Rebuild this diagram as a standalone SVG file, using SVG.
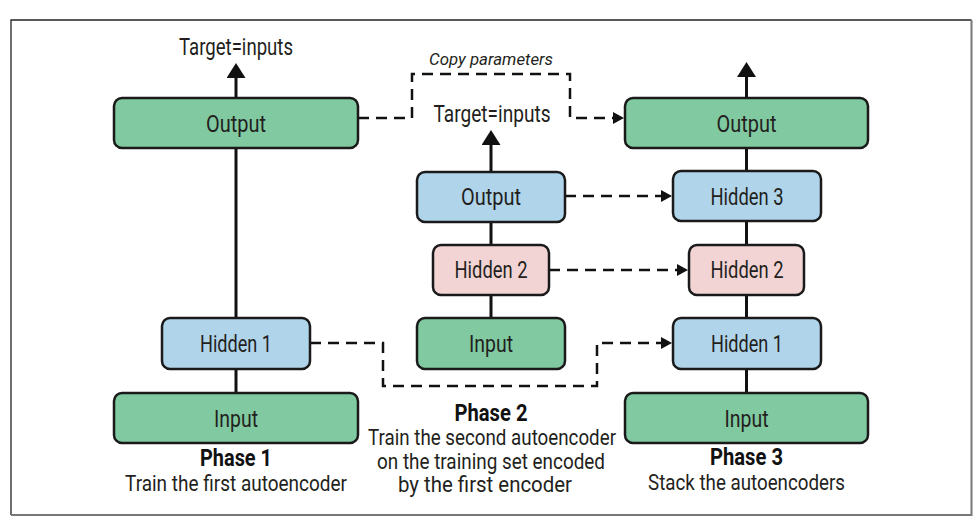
<svg xmlns="http://www.w3.org/2000/svg" width="980" height="519" viewBox="0 0 980 519">
  <defs>
    <marker id="solidHead" markerUnits="userSpaceOnUse" markerWidth="20" markerHeight="20" refX="3" refY="9.5" orient="auto">
      <path d="M0,0 L15,9.5 L0,19 z" fill="#111"/>
    </marker>
    <marker id="dashHead" markerUnits="userSpaceOnUse" markerWidth="14" markerHeight="14" refX="2" refY="6" orient="auto">
      <path d="M0,0 L11,6 L0,12 z" fill="#111"/>
    </marker>
  </defs>
  <style>
    .box { stroke: #1a1a1a; stroke-width: 2.5; }
    .green { fill: #80c9a1; }
    .blue { fill: #b0d4ea; }
    .pink { fill: #f2d4d4; }
    .lbl { font-family: Roboto, "Liberation Sans", sans-serif; font-size: 23.5px; fill: #231f20; text-anchor: middle; }
    .title { font-family: Roboto, "Liberation Sans", sans-serif; font-size: 23.5px; font-weight: bold; fill: #111; text-anchor: middle; }
    .sub { font-family: Roboto, "Liberation Sans", sans-serif; font-size: 22px; fill: #231f20; text-anchor: middle; }
    .ital { font-family: Roboto, "Liberation Sans", sans-serif; font-size: 17px; font-style: italic; fill: #231f20; text-anchor: middle; }
    .solid { stroke: #111; stroke-width: 3; fill: none; }
    .dash { stroke: #111; stroke-width: 2.5; fill: none; stroke-dasharray: 11 7; }
  </style>

  <!-- frame -->
  <g id="frame">
    <path d="M11,515 V20 H971.5" fill="none" stroke="#222" stroke-width="1.3"/>
    <path d="M971.5,20 V515 H11" fill="none" stroke="#777" stroke-width="2"/>
  </g>

  <!-- connectors -->
  <g id="connectors">
    <path class="solid" d="M236,393 V369"/>
    <path class="solid" d="M236,318 V148"/>
    <path class="solid" d="M236,98 V75" marker-end="url(#solidHead)"/>

    <path class="solid" d="M491,318 V295"/>
    <path class="solid" d="M491,245 V222"/>
    <path class="solid" d="M491,172 V142" marker-end="url(#solidHead)"/>

    <path class="solid" d="M746.5,393 V369"/>
    <path class="solid" d="M746.5,318 V295"/>
    <path class="solid" d="M746.5,245 V221"/>
    <path class="solid" d="M746.5,171 V148"/>
    <path class="solid" d="M746.5,98 V74" marker-end="url(#solidHead)"/>

    <path class="dash" d="M358,118 H412 V74 H570 V118 H615" marker-end="url(#dashHead)"/>
    <path class="dash" d="M565,196 H663" marker-end="url(#dashHead)"/>
    <path class="dash" d="M549,270 H679" marker-end="url(#dashHead)"/>
    <path class="dash" d="M310,343 H383 V386 H597 V343 H663" marker-end="url(#dashHead)"/>
  </g>

  <!-- connector labels -->
  <g id="labels">
    <text class="lbl" x="236" y="55" textLength="114" lengthAdjust="spacingAndGlyphs">Target=inputs</text>
    <text class="lbl" x="492" y="122" textLength="117" lengthAdjust="spacingAndGlyphs">Target=inputs</text>
    <text class="ital" x="491" y="65" textLength="124" lengthAdjust="spacingAndGlyphs">Copy parameters</text>
  </g>

  <!-- Phase 1 -->
  <g id="p1-output">
    <rect class="box green" x="114" y="98" width="244" height="50" rx="8"/>
    <text class="lbl" x="236" y="131.5" textLength="60" lengthAdjust="spacingAndGlyphs">Output</text>
  </g>
  <g id="p1-hidden1">
    <rect class="box blue" x="162" y="318" width="148" height="51" rx="8"/>
    <text class="lbl" x="236" y="351.5" textLength="72" lengthAdjust="spacingAndGlyphs">Hidden 1</text>
  </g>
  <g id="p1-input">
    <rect class="box green" x="114" y="393" width="244" height="50" rx="8"/>
    <text class="lbl" x="236" y="426.5" textLength="44" lengthAdjust="spacingAndGlyphs">Input</text>
  </g>
  <g id="p1-caption">
    <text class="title" x="236" y="466" textLength="72" lengthAdjust="spacingAndGlyphs">Phase 1</text>
    <text class="sub" x="236" y="491" textLength="222" lengthAdjust="spacingAndGlyphs">Train the first autoencoder</text>
  </g>

  <!-- Phase 2 -->
  <g id="p2-output">
    <rect class="box blue" x="417" y="172" width="148" height="50" rx="8"/>
    <text class="lbl" x="491" y="205" textLength="60" lengthAdjust="spacingAndGlyphs">Output</text>
  </g>
  <g id="p2-hidden2">
    <rect class="box pink" x="433" y="245" width="116" height="50" rx="8"/>
    <text class="lbl" x="491" y="278" textLength="73" lengthAdjust="spacingAndGlyphs">Hidden 2</text>
  </g>
  <g id="p2-input">
    <rect class="box green" x="417" y="318" width="148" height="51" rx="8"/>
    <text class="lbl" x="491" y="351.5" textLength="44" lengthAdjust="spacingAndGlyphs">Input</text>
  </g>
  <g id="p2-caption">
    <text class="title" x="491" y="421" textLength="73" lengthAdjust="spacingAndGlyphs">Phase 2</text>
    <text class="sub" x="492" y="445" textLength="248" lengthAdjust="spacingAndGlyphs">Train the second autoencoder</text>
    <text class="sub" x="491" y="468.5" textLength="228" lengthAdjust="spacingAndGlyphs">on the training set encoded</text>
    <text class="sub" x="485" y="492" textLength="174" lengthAdjust="spacingAndGlyphs">by the first encoder</text>
  </g>

  <!-- Phase 3 -->
  <g id="p3-output">
    <rect class="box green" x="625" y="98" width="243" height="50" rx="8"/>
    <text class="lbl" x="746.5" y="131.5" textLength="60" lengthAdjust="spacingAndGlyphs">Output</text>
  </g>
  <g id="p3-hidden3">
    <rect class="box blue" x="673" y="171" width="148" height="50" rx="8"/>
    <text class="lbl" x="747" y="204.5" textLength="73" lengthAdjust="spacingAndGlyphs">Hidden 3</text>
  </g>
  <g id="p3-hidden2">
    <rect class="box pink" x="689" y="245" width="115" height="50" rx="8"/>
    <text class="lbl" x="747" y="278" textLength="73" lengthAdjust="spacingAndGlyphs">Hidden 2</text>
  </g>
  <g id="p3-hidden1">
    <rect class="box blue" x="673" y="318" width="148" height="51" rx="8"/>
    <text class="lbl" x="747" y="351.5" textLength="72" lengthAdjust="spacingAndGlyphs">Hidden 1</text>
  </g>
  <g id="p3-input">
    <rect class="box green" x="625" y="393" width="243" height="50" rx="8"/>
    <text class="lbl" x="746.5" y="426.5" textLength="44" lengthAdjust="spacingAndGlyphs">Input</text>
  </g>
  <g id="p3-caption">
    <text class="title" x="746.5" y="465" textLength="73" lengthAdjust="spacingAndGlyphs">Phase 3</text>
    <text class="sub" x="746.5" y="490" textLength="197" lengthAdjust="spacingAndGlyphs">Stack the autoencoders</text>
  </g>
</svg>
